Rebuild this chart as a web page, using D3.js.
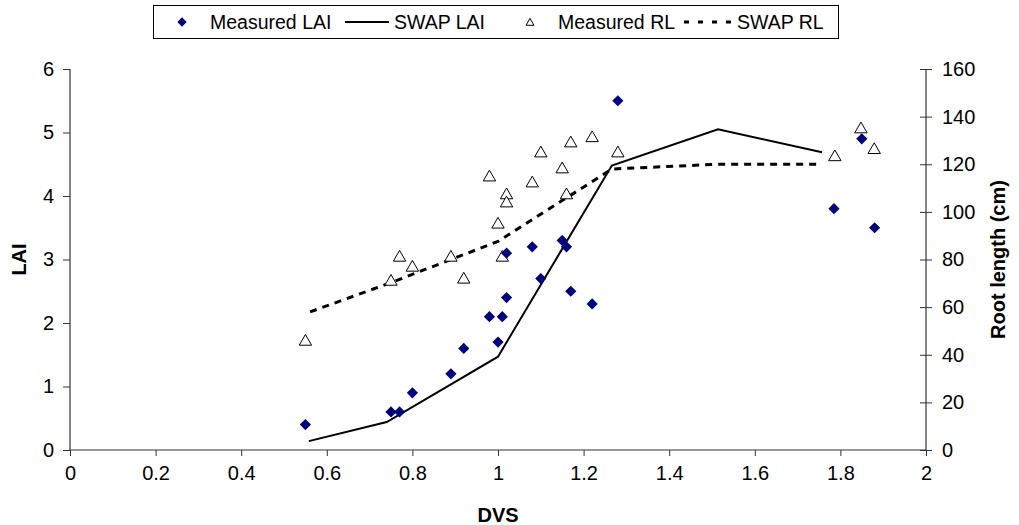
<!DOCTYPE html>
<html lang="en">
  <head>
    <meta charset="UTF-8" />
    <title>LAI and root length vs DVS</title>
    <script src="https://d3js.org/d3.v7.min.js"></script>
    <style>
      body { margin: 0; background: #fff; }
      svg text { font-family: "Liberation Sans", Arial, sans-serif; }
    </style>
  </head>
  <body>
    <svg></svg>
    <script>
      // measured LAI (DVS, LAI)
      let laiDvs = [0.55, 0.75, 0.77, 0.8, 0.89, 0.92, 0.98, 1.01, 1.0, 1.02, 1.02, 1.08, 1.1, 1.15, 1.16, 1.17, 1.22, 1.28, 1.785, 1.85, 1.88];
      let laiVal = [0.4, 0.6, 0.6, 0.9, 1.2, 1.6, 2.1, 2.1, 1.7, 2.4, 3.1, 3.2, 2.7, 3.3, 3.2, 2.5, 2.3, 5.5, 3.8, 4.9, 3.5];

      // SWAP simulated LAI
      let swapLaiDvs = [0.558, 0.74, 1.0, 1.266, 1.514, 1.757];
      let swapLaiVal = [0.14, 0.44, 1.47, 4.48, 5.05, 4.69];

      // measured root length (cm)
      let rlDvs = [0.55, 0.75, 0.77, 0.8, 0.89, 0.92, 0.98, 1.0, 1.01, 1.02, 1.02, 1.08, 1.1, 1.15, 1.16, 1.17, 1.22, 1.28, 1.787, 1.848, 1.879];
      let rlVal = [45.5, 70.7, 80.8, 76.6, 80.8, 71.6, 114.5, 94.7, 80.8, 107, 103.6, 112, 124.6, 117.9, 107, 128.8, 131, 124.6, 123, 134.7, 126];

      // SWAP simulated root length
      let swapRlDvs = [0.561, 0.75, 1.0, 1.266, 1.514, 1.757];
      let swapRlVal = [58, 70.3, 87.6, 118, 120, 120];

      let xTicks = [0, 0.2, 0.4, 0.6, 0.8, 1, 1.2, 1.4, 1.6, 1.8, 2];
      let laiTicks = [0, 1, 2, 3, 4, 5, 6];
      let rlTicks = [0, 20, 40, 60, 80, 100, 120, 140, 160];

      let width = 1019,
        height = 525;
      let plotL = 70,
        plotR = 926,
        plotT = 69,
        plotB = 450;

      let svg = d3.select("svg").attr("width", width).attr("height", height);

      let x = d3.scaleLinear().domain([0, 2]).range([plotL, plotR]);
      let yL = d3.scaleLinear().domain([0, 6]).range([plotB, plotT]);
      let yR = d3.scaleLinear().domain([0, 160]).range([plotB, plotT]);

      // axes
      let xAxis = d3.axisBottom(x).tickValues(xTicks).tickSize(6).tickPadding(10)
        .tickFormat(d3.format("~g"));
      let gx = svg.append("g").attr("transform", "translate(0," + plotB + ")").call(xAxis);

      let gl = svg.append("g").attr("transform", "translate(" + plotL + ",0)")
        .call(d3.axisLeft(yL).tickValues(laiTicks).tickSize(7).tickPadding(9)
          .tickFormat(d3.format("d")));

      let gr = svg.append("g").attr("transform", "translate(" + plotR + ",0)")
        .call(d3.axisRight(yR).tickValues(rlTicks).tickSize(6).tickPadding(10)
          .tickFormat(d3.format("d")));
      // right axis ticks cross the line
      gr.selectAll(".tick line").attr("x1", -6);

      [gx, gl, gr].forEach((g) => {
        g.select(".domain").attr("stroke", "#333").attr("stroke-width", 1.2);
        g.selectAll(".tick line").attr("stroke", "#333");
        g.selectAll(".tick text").attr("font-size", 20).attr("fill", "#000")
          .style("font-family", "'Liberation Sans', Arial, sans-serif");
      });
      // no end caps on the domain paths
      gx.select(".domain").attr("d", "M" + plotL + ",0H" + plotR);
      gl.select(".domain").attr("d", "M0," + plotT + "V" + plotB);
      gr.select(".domain").attr("d", "M0," + plotT + "V" + plotB);

      // axis titles
      svg.append("text").attr("x", (plotL + plotR) / 2).attr("y", 522)
        .attr("text-anchor", "middle").attr("font-size", 20).attr("font-weight", "bold")
        .text("DVS");
      svg.append("text").attr("transform", "translate(26," + (plotT + plotB) / 2 + ") rotate(-90)")
        .attr("text-anchor", "middle").attr("font-size", 20).attr("font-weight", "bold")
        .text("LAI");
      svg.append("text").attr("transform", "translate(1005," + (plotT + plotB) / 2 + ") rotate(-90)")
        .attr("text-anchor", "middle").attr("font-size", 20).attr("font-weight", "bold")
        .text("Root length (cm)");

      let diamond = d3.symbol().type(d3.symbolDiamond2).size(80);
      let triangle = d3.symbol().type(d3.symbolTriangle2).size(110);

      // SWAP RL dotted line (secondary axis)
      let rlLine = d3.line().x((d) => x(d[0])).y((d) => yR(d[1]));
      svg.append("path")
        .datum(d3.zip(swapRlDvs, swapRlVal))
        .attr("d", rlLine)
        .attr("fill", "none").attr("stroke", "#000").attr("stroke-width", 3)
        .attr("stroke-dasharray", "7,6");

      // SWAP LAI solid line
      let laiLine = d3.line().x((d) => x(d[0])).y((d) => yL(d[1]));
      svg.append("path")
        .datum(d3.zip(swapLaiDvs, swapLaiVal))
        .attr("d", laiLine)
        .attr("fill", "none").attr("stroke", "#000").attr("stroke-width", 2);

      // measured RL triangles
      svg.append("g").selectAll("path")
        .data(d3.zip(rlDvs, rlVal))
        .join("path")
        .attr("d", triangle)
        .attr("transform", (d) => "translate(" + x(d[0]) + "," + yR(d[1]) + ")")
        .attr("fill", "#fff").attr("stroke", "#000").attr("stroke-width", 1);

      // measured LAI diamonds
      svg.append("g").selectAll("path")
        .data(d3.zip(laiDvs, laiVal))
        .join("path")
        .attr("d", diamond)
        .attr("transform", (d) => "translate(" + x(d[0]) + "," + yL(d[1]) + ")")
        .attr("fill", "#000080");

      // legend
      let lg = svg.append("g").attr("font-size", 19.5);
      lg.append("rect").attr("x", 153.5).attr("y", 5.5).attr("width", 685).attr("height", 33)
        .attr("fill", "#fff").attr("stroke", "#000");
      lg.append("path").attr("d", d3.symbol().type(d3.symbolDiamond2).size(55))
        .attr("transform", "translate(182,22)").attr("fill", "#000080");
      lg.append("text").attr("x", 210).attr("y", 29).text("Measured LAI");
      lg.append("line").attr("x1", 345).attr("x2", 389).attr("y1", 22).attr("y2", 22)
        .attr("stroke", "#000").attr("stroke-width", 2);
      lg.append("text").attr("x", 394).attr("y", 29).text("SWAP LAI");
      lg.append("path").attr("d", d3.symbol().type(d3.symbolTriangle2).size(45))
        .attr("transform", "translate(530,23)").attr("fill", "#fff").attr("stroke", "#000");
      lg.append("text").attr("x", 558).attr("y", 29).text("Measured RL");
      lg.append("line").attr("x1", 684).attr("x2", 733).attr("y1", 22).attr("y2", 22)
        .attr("stroke", "#000").attr("stroke-width", 3).attr("stroke-dasharray", "5,9");
      lg.append("text").attr("x", 737).attr("y", 29).text("SWAP RL");
    </script>
  </body>
</html>
